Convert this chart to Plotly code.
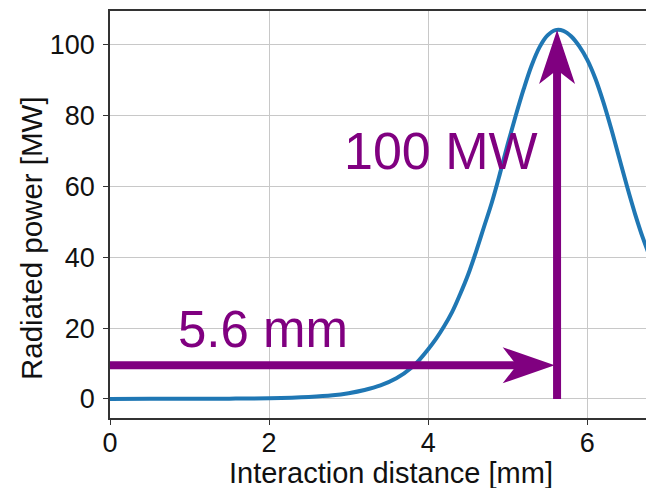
import plotly.graph_objects as go

# Data
distance_mm = [0.0, 0.5, 1.0, 1.5, 2.0, 2.5, 2.8, 3.0, 3.2, 3.4, 3.6, 3.8, 3.9, 4.0, 4.1, 4.2,
               4.3, 4.4, 4.5, 4.6, 4.7, 4.8, 4.9, 5.0, 5.1, 5.2, 5.3, 5.4, 5.5, 5.6, 5.7,
               5.8, 5.9, 6.0, 6.1, 6.2, 6.3, 6.4, 6.5, 6.6, 6.7, 6.8]
power_mw = [0.0, 0.005, 0.02, 0.07, 0.2, 0.55, 1.0, 1.6, 2.5, 3.8, 5.8, 9.0, 11.3, 14.0, 17.0, 20.5,
            24.5, 29.5, 35.0, 41.5, 48.5, 55.5, 63.5, 72.0, 80.0, 87.5, 94.2, 99.4, 102.7, 104.2, 104.0,
            102.4, 99.6, 95.8, 90.6, 84.0, 76.4, 68.2, 60.0, 52.3, 45.4, 39.4]

x_ticks = [0, 2, 4, 6]
y_ticks = [0, 20, 40, 60, 80, 100]
x_title = "Interaction distance [mm]"
y_title = "Radiated power [MW]"

arrow_x = 5.62      # position of peak (horizontal arrow tip / vertical arrow)
arrow_y = 9.5       # height of horizontal arrow
peak_mw = 104.2     # top of vertical arrow
label_dist = "5.6 mm"
label_power = "100 MW"

purple = "#800080"
blue = "#1f77b4"
FONT = "Liberation Sans, Arial, sans-serif"
TXT = "#111111"

fig = go.Figure()
fig.add_trace(go.Scatter(x=distance_mm, y=power_mw, mode="lines",
                         line=dict(color=blue, width=4, shape="spline", smoothing=1.0),
                         hoverinfo="skip", showlegend=False))

shapes = [
    dict(type="line", xref="x", yref="y", x0=0, x1=arrow_x - 0.35, y0=arrow_y, y1=arrow_y,
         line=dict(color=purple, width=8)),
    dict(type="path", xref="x", yref="y", xsizemode="pixel", ysizemode="pixel",
         xanchor=arrow_x - 0.03, yanchor=arrow_y,
         path="M 0,0 L -52,18 L -38,0 L -52,-18 Z",
         fillcolor=purple, line=dict(width=0)),
    dict(type="line", xref="x", yref="y", x0=arrow_x, x1=arrow_x, y0=0, y1=peak_mw - 8,
         line=dict(color=purple, width=8)),
    dict(type="path", xref="x", yref="y", xsizemode="pixel", ysizemode="pixel",
         xanchor=arrow_x, yanchor=peak_mw,
         path="M 0,0 L -18,-54 L 0,-40 L 18,-54 Z",
         fillcolor=purple, line=dict(width=0)),
]

annotations = [
    dict(x=1.92, y=19.6, xref="x", yref="y", text=label_dist, showarrow=False,
         xanchor="center", yanchor="middle", font=dict(family=FONT, size=51, color=purple)),
    dict(x=4.16, y=70, xref="x", yref="y", text=label_power, showarrow=False,
         xanchor="center", yanchor="middle", font=dict(family=FONT, size=52, color=purple)),
    # axis titles
    dict(x=0.525, y=-0.1351, xref="paper", yref="paper", text=x_title, showarrow=False,
         xanchor="center", yanchor="middle", font=dict(family=FONT, size=29, color=TXT)),
    dict(x=-0.1455, y=0.4423, xref="paper", yref="paper", text=y_title, showarrow=False,
         textangle=-90, xanchor="center", yanchor="middle",
         font=dict(family=FONT, size=29.5, color=TXT)),
]

fig.update_layout(
    width=646, height=488,
    margin=dict(l=110, r=0, t=11, b=70, autoexpand=False),
    paper_bgcolor="white", plot_bgcolor="white",
    font=dict(family=FONT, size=27, color=TXT),
    shapes=shapes, annotations=annotations,
    xaxis=dict(range=[0, 6.738], tickvals=x_ticks, showgrid=True, gridcolor="#c8c8c8", gridwidth=1,
               showline=True, linecolor="#333333", linewidth=1.5, mirror=True,
               ticks="outside", ticklen=5, tickcolor="#333333", zeroline=False, automargin=False,
               tickfont=dict(family=FONT, size=27, color=TXT), ticklabelstandoff=-5),
    yaxis=dict(range=[-5.4, 109.6], tickvals=y_ticks, showgrid=True, gridcolor="#c8c8c8", gridwidth=1,
               showline=True, linecolor="#333333", linewidth=1.5, automargin=False,
               ticks="outside", ticklen=5, tickcolor="#333333", zeroline=False,
               tickfont=dict(family=FONT, size=27, color=TXT), ticklabelstandoff=3),
)

fig.write_html("out.html")
